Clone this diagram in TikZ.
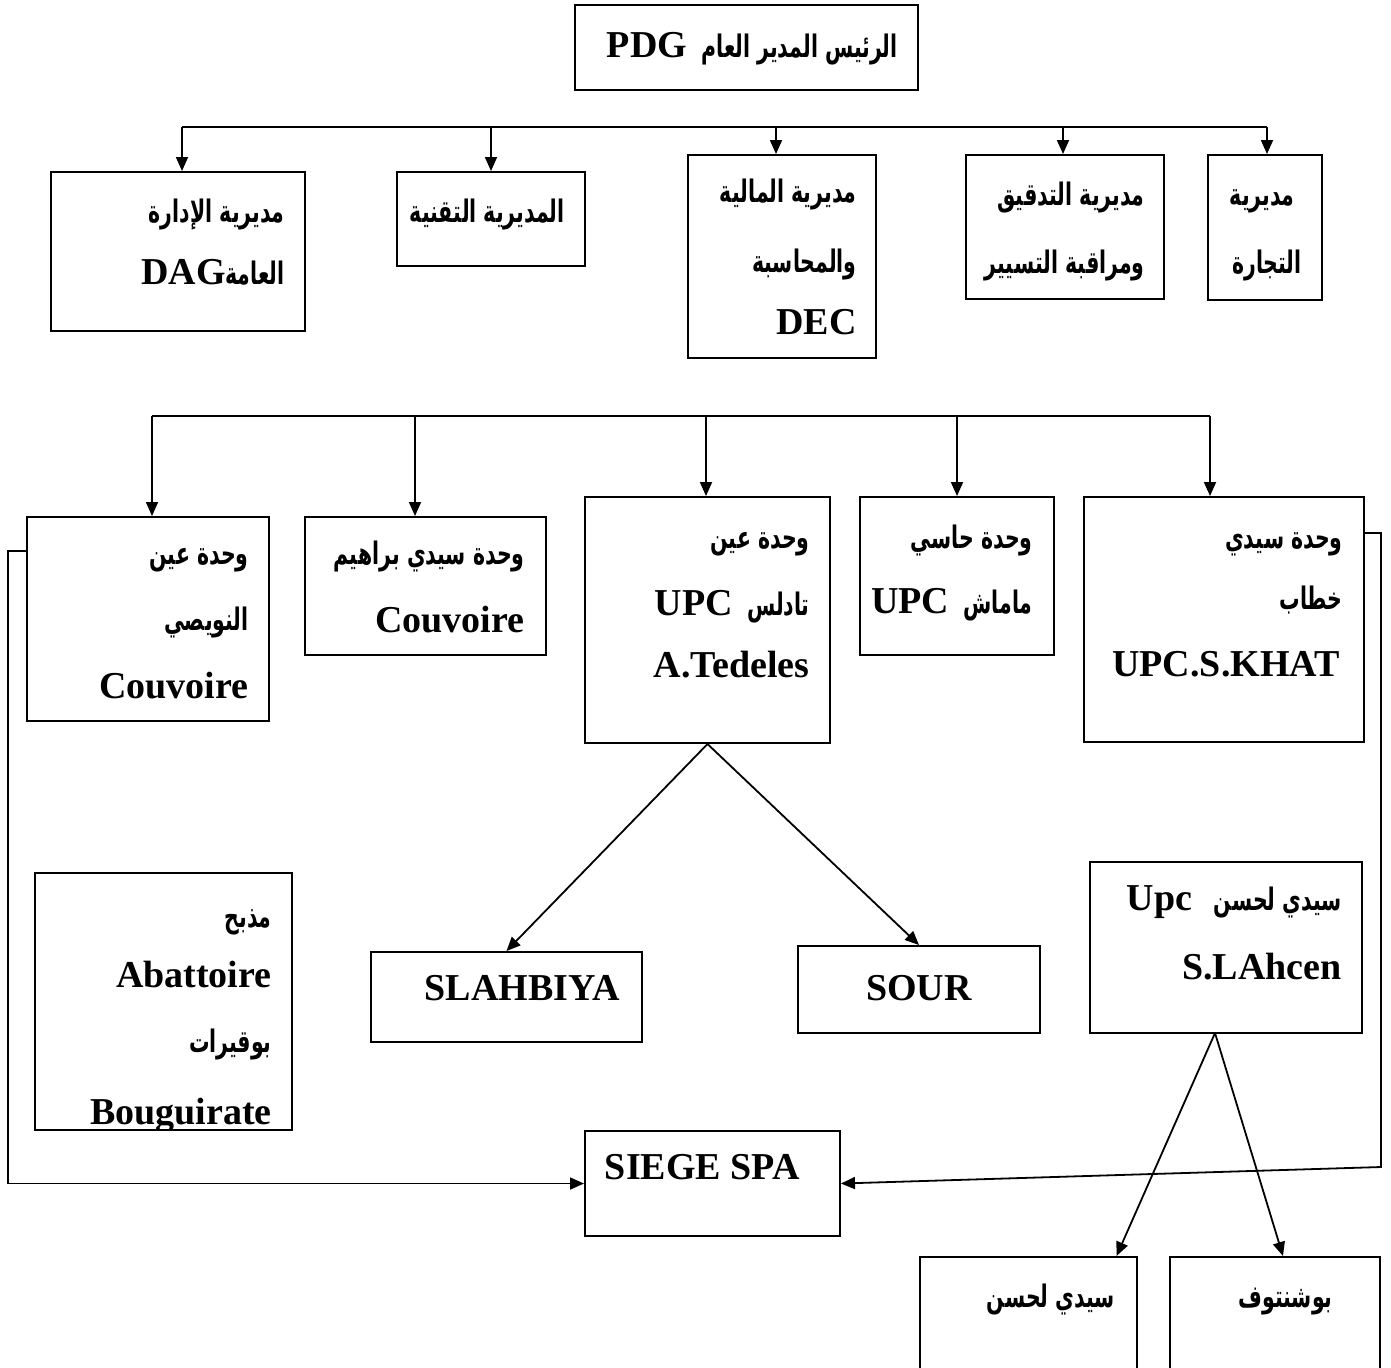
\documentclass[tikz,border=0pt]{standalone}
\usepackage{fontspec}
\setmainfont{Liberation Serif}
\newfontfamily\arfont[Script=Arabic,FakeStretch=0.66]{DejaVu Sans}
\TeXXeTstate=1
\usetikzlibrary{arrows.meta,fit}

% Latin and Arabic text helpers
\newcommand\la[1]{{\fontsize{19}{22}\selectfont\bfseries #1}}
\newcommand\ar[1]{{\arfont\fontsize{15.5}{18}\selectfont\bfseries\beginR #1\endR}}
% Arabic first (right), Latin after it (left)
\newcommand\mix[2]{\beginR{\arfont\fontsize{15.5}{18}\selectfont\bfseries #1}{\fontsize{19}{22}\selectfont\bfseries #2}\endR}

\begin{document}
\begin{tikzpicture}[x=0.5pt,y=-0.5pt,
  boxst/.style={draw, line width=1pt, inner sep=0pt, rectangle},
  txt/.style={anchor=base east, inner sep=0pt},
  ln/.style={line width=0.9pt},
  arr/.style={line width=0.9pt, -{Triangle[length=7pt,width=6pt]}}]

\useasboundingbox (0,0) rectangle (1391,1367);

% ---------- boxes ----------
\node[boxst, fit={(575,5) (918,90)}] (pdg) {};
\node[boxst, fit={(51,172) (305,331)}] (dag) {};
\node[boxst, fit={(397,172) (585,266)}] (tech) {};
\node[boxst, fit={(688,155) (876,358)}] (dec) {};
\node[boxst, fit={(966,155) (1164,299)}] (aud) {};
\node[boxst, fit={(1208,155) (1322,300)}] (com) {};

\node[boxst, fit={(27,517) (269,721)}] (ain) {};
\node[boxst, fit={(305,517) (546,655)}] (sbr) {};
\node[boxst, fit={(585,497) (830,743)}] (ted) {};
\node[boxst, fit={(860,497) (1054,655)}] (has) {};
\node[boxst, fit={(1084,497) (1364,742)}] (skh) {};

\node[boxst, fit={(35,873) (292,1130)}] (aba) {};
\node[boxst, fit={(371,952) (642,1042)}] (slah) {};
\node[boxst, fit={(798,946) (1040,1033)}] (sour) {};
\node[boxst, fit={(1090,862) (1362,1033)}] (slh) {};
\node[boxst, fit={(585,1131) (840,1236)}] (siege) {};
\node[boxst, fit={(920,1257) (1137,1380)}] (sl) {};
\node[boxst, fit={(1170,1257) (1380,1380)}] (bch) {};

% ---------- texts ----------
\node[txt] (tpdg) at (898,57) {\mix{الرئيس المدير العام\ \ }{PDG}};

\node[txt] (tdag1) at (285,222) {\ar{مديرية الإدارة}};
\node[txt] (tdag2) at (285,284) {\mix{العامة}{DAG}};
\node[txt] (ttech) at (565,222) {\ar{المديرية التقنية}};
\node[txt] (tdec1) at (857,202) {\ar{مديرية المالية}};
\node[txt] (tdec2) at (857,272) {\ar{والمحاسبة}};
\node[txt] (tdec3) at (857,334) {\la{DEC}};
\node[txt] (taud1) at (1145,205) {\ar{مديرية التدقيق}};
\node[txt] (taud2) at (1145,273) {\ar{ومراقبة التسيير}};
\node[txt] (tcom1) at (1295,205) {\ar{مديرية}};
\node[txt] (tcom2) at (1302,273) {\ar{التجارة}};

\node[txt] (tain1) at (249,564) {\ar{وحدة عين}};
\node[txt] (tain2) at (249,630) {\ar{النويصي}};
\node[txt] (tain3) at (249,698) {\la{Couvoire}};
\node[txt] (tsbr1) at (525,564) {\ar{وحدة سيدي براهيم}};
\node[txt] (tsbr2) at (525,632) {\la{Couvoire}};
\node[txt] (tted1) at (810,548) {\ar{وحدة عين}};
\node[txt] (tted2) at (810,615) {\mix{تادلس\ \ }{UPC}};
\node[txt] (tted3) at (810,677) {\la{A.Tedeles}};
\node[txt] (thas1) at (1033,548) {\ar{وحدة حاسي}};
\node[txt] (thas2) at (1033,613) {\mix{ماماش\ \ }{UPC}};
\node[txt] (tskh1) at (1343,548) {\ar{وحدة سيدي}};
\node[txt] (tskh2) at (1343,609) {\ar{خطاب}};
\node[txt] (tskh3) at (1340,676) {\la{UPC.S.KHAT}};

\node[txt] (taba1) at (272,927) {\ar{مذبح}};
\node[txt] (taba2) at (272,987) {\la{Abattoire}};
\node[txt] (taba3) at (272,1052) {\ar{بوقيرات}};
\begin{scope}
  \clip (35,873) rectangle (292,1129);
  \node[txt] (taba4) at (272,1124) {\la{Bouguirate}};
\end{scope}

\node[txt] (tslah) at (620,1000) {\la{SLAHBIYA}};
\node[txt] (tsour) at (972,1000) {\la{SOUR}};
\node[txt] (tslh1) at (1342,910) {\mix{سيدي لحسن\ \ \ }{Upc}};
\node[txt] (tslh2) at (1342,979) {\la{S.LAhcen}};
\node[txt] (tsiege) at (800,1179) {\la{SIEGE SPA}};
\node[txt] (tsl) at (1115,1307) {\ar{سيدي لحسن}};
\node[txt] (tbch) at (1333,1307) {\ar{بوشنتوف}};

% ---------- upper distribution line ----------
\coordinate (t1) at (182,127);
\coordinate (t2) at (491,127);
\coordinate (t3) at (776,127);
\coordinate (t4) at (1063,127);
\coordinate (t5) at (1267,127);
\draw[ln] (t1) -- (t5);
\draw[arr] (t1) -- (t1 |- dag.north);
\draw[arr] (t2) -- (t2 |- tech.north);
\draw[arr] (t3) -- (t3 |- dec.north);
\draw[arr] (t4) -- (t4 |- aud.north);
\draw[arr] (t5) -- (t5 |- com.north);

% ---------- units distribution line ----------
\coordinate (u1) at (152,416);
\coordinate (u2) at (415,416);
\coordinate (u3) at (706,416);
\coordinate (u4) at (957,416);
\coordinate (u5) at (1210,416);
\draw[ln] (u1) -- (u5);
\draw[arr] (u1) -- (u1 |- ain.north);
\draw[arr] (u2) -- (u2 |- sbr.north);
\draw[arr] (u3) -- (u3 |- ted.north);
\draw[arr] (u4) -- (u4 |- has.north);
\draw[arr] (u5) -- (u5 |- skh.north);

% ---------- branches ----------
\draw[arr] (ted.south) -- (slah.north);
\draw[arr] (ted.south) -- (sour.north);
\coordinate (lo) at (1215,1033);
\draw[arr] (lo) -- ([xshift=44pt]sl.north);
\draw[arr] (lo) -- ([xshift=4pt]bch.north);

% ---------- links to the head office ----------
\coordinate (la) at (8,551);
\draw[arr] (ain.west |- la) -- (la) |- (siege.west);
\coordinate (ra) at (1381,533);
\coordinate (rb) at (1381,1167);
\draw[arr] (skh.east |- ra) -- (ra) -- (rb) -- (siege.east);
\end{tikzpicture}
\end{document}
